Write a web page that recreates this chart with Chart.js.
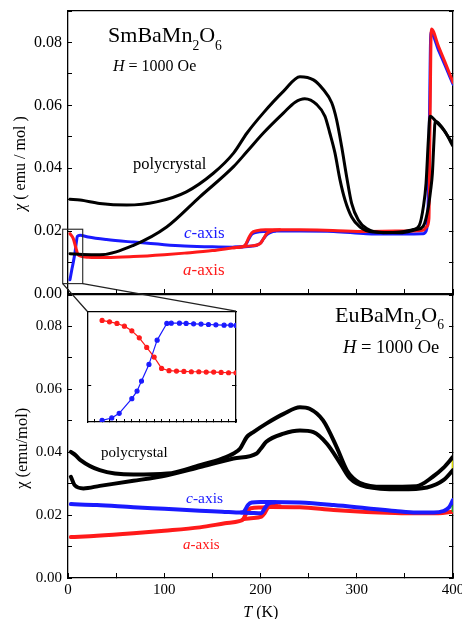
<!DOCTYPE html>
<html>
<head>
<meta charset="utf-8">
<script src="https://cdn.jsdelivr.net/npm/chart.js@4.4.1/dist/chart.umd.min.js"></script>
<style>
html,body{margin:0;padding:0;background:#fff;}
#wrap{position:relative;width:462px;height:619px;overflow:hidden;background:#fff;}
#wrap canvas{position:absolute;}
</style>
</head>
<body>
<div id="wrap">
  <canvas id="cTop" width="462" height="310" style="left:0px;top:0px;width:462px;height:310px"></canvas>
  <canvas id="cBot" width="462" height="334" style="left:0px;top:285px;width:462px;height:334px"></canvas>
  <canvas id="cIns" width="160" height="122" style="left:82px;top:306px;width:160px;height:122px"></canvas>
  <canvas id="cOvl" width="462" height="619" style="left:0px;top:0px;width:462px;height:619px;pointer-events:none"></canvas>
</div>
<script>
// ---------------- DATA ----------------
// Axis ticks
const xTickValues = [0, 100, 200, 300, 400];
const xTickLabels = ['0', '100', '200', '300', '400'];
const yTickValues = [0, 0.02, 0.04, 0.06, 0.08];
const yTickLabels = ['0.00', '0.02', '0.04', '0.06', '0.08'];

// SmBaMn2O6 (top panel): T (K) and chi (emu/mol)
const smT_polyA   = [2, 12.5, 33, 61, 92, 123, 151, 172, 186, 203, 224, 241, 255, 265, 274, 279, 284.3, 289.5, 294.7, 301.6, 310.3, 327.6, 345, 358.8, 365, 369.2, 372, 374.4, 376.1, 383, 390, 399.6];
const smChi_polyA = [0.0301, 0.0299, 0.0288, 0.0283, 0.0293, 0.0325, 0.0384, 0.0448, 0.0512, 0.0576, 0.0645, 0.0691, 0.0681, 0.0651, 0.0608, 0.0555, 0.0469, 0.0373, 0.0288, 0.0235, 0.0208, 0.0195, 0.0197, 0.0205, 0.0218, 0.0277, 0.0352, 0.0490, 0.0565, 0.0546, 0.0523, 0.0478];
const smT_polyB   = [2, 15, 33, 68, 102.5, 137, 172, 186, 203, 224, 236, 246, 258.3, 267, 272, 277.4, 282.6, 287.8, 294.7, 303.4, 317, 345, 362, 369, 374.4, 376.8, 378.6, 379.6, 380.6, 381.3, 386, 392, 399.6];
const smChi_polyB = [0.0128, 0.0126, 0.0125, 0.0155, 0.0213, 0.0309, 0.0405, 0.0453, 0.0512, 0.0576, 0.0610, 0.0621, 0.0603, 0.0565, 0.0512, 0.0448, 0.0363, 0.0299, 0.0245, 0.0213, 0.0197, 0.0195, 0.0205, 0.0215, 0.0277, 0.0331, 0.0384, 0.0448, 0.0512, 0.0549, 0.0540, 0.0515, 0.0472];
const smT_redA    = [2, 5.5, 8, 10, 12.5, 21, 40, 68, 100, 121, 150, 172, 180, 184, 188, 191, 196, 205, 241, 275, 310, 340, 369, 373, 375, 376, 377.5, 385, 392, 400];
const smChi_redA  = [0.0192, 0.0176, 0.0149, 0.0128, 0.0121, 0.0117, 0.0116, 0.0119, 0.0125, 0.0130, 0.0138, 0.0147, 0.0150, 0.0155, 0.0180, 0.0195, 0.0201, 0.0204, 0.0204, 0.0202, 0.0199, 0.0200, 0.0203, 0.0215, 0.0240, 0.0500, 0.0843, 0.0787, 0.0735, 0.0673];
const smT_redB    = [172, 190, 199.5, 203, 206.4, 212, 220];
const smChi_redB  = [0.0147, 0.0153, 0.0160, 0.0175, 0.0192, 0.0201, 0.0204];
const smT_blueA   = [2, 3.8, 5.5, 7.3, 8.7, 9.7, 12.5, 21, 40, 68, 100, 121, 150, 172, 190, 196, 200, 203, 206, 210, 217, 241, 276, 310, 340, 369, 372, 374, 375.5, 377, 385, 392, 400];
const smChi_blueA = [0.0045, 0.0075, 0.0101, 0.0133, 0.0165, 0.0183, 0.0187, 0.0181, 0.0173, 0.0165, 0.0157, 0.0153, 0.0150, 0.0149, 0.0152, 0.0155, 0.0162, 0.0175, 0.0187, 0.0195, 0.0200, 0.0200, 0.0199, 0.0192, 0.0191, 0.0192, 0.0200, 0.0260, 0.0550, 0.0832, 0.0775, 0.0725, 0.0667];
const smT_blueB   = [172, 180, 184, 188, 191, 196, 205, 215];
const smChi_blueB = [0.0149, 0.0150, 0.0154, 0.0176, 0.0190, 0.0196, 0.0199, 0.0200];

// EuBaMn2O6 (bottom panel)
const euT_polyA   = [3, 8, 13, 33, 68, 103, 137, 160, 172, 178.7, 185.7, 192.6, 206, 224, 241, 251, 265, 279, 289.6, 296, 303, 327, 362, 379, 390, 400];
const euChi_polyA = [0.0401, 0.0390, 0.0375, 0.0343, 0.0329, 0.0332, 0.0359, 0.0380, 0.0396, 0.0411, 0.0448, 0.0464, 0.0491, 0.0522, 0.0543, 0.0538, 0.0501, 0.0417, 0.0343, 0.0318, 0.0303, 0.0290, 0.0292, 0.0322, 0.0350, 0.0385];
const euT_polyB   = [3, 7, 16, 33, 68, 103, 137, 172, 196, 200, 206, 224, 241, 255, 269, 283, 293, 310, 345, 373, 390, 400];
const euChi_polyB = [0.0322, 0.0295, 0.0285, 0.0293, 0.0309, 0.0327, 0.0353, 0.0380, 0.0396, 0.0410, 0.0433, 0.0459, 0.0469, 0.0464, 0.0427, 0.0364, 0.0317, 0.0290, 0.0282, 0.0288, 0.0311, 0.0343];
const euT_blueA   = [3, 30, 68, 100, 137, 160, 180, 183, 187, 191, 200, 210, 241, 276, 310, 340, 362, 380, 390, 396, 400];
const euChi_blueA = [0.0235, 0.0232, 0.0225, 0.0220, 0.0214, 0.0211, 0.0208, 0.0212, 0.0232, 0.0240, 0.0242, 0.0242, 0.0240, 0.0232, 0.0222, 0.0213, 0.0208, 0.0208, 0.0213, 0.0225, 0.0248];
const euT_blueB   = [180, 190, 201, 204, 208, 215];
const euChi_blueB = [0.0208, 0.0207, 0.0206, 0.0220, 0.0236, 0.0241];
const euT_redA    = [3, 30, 68, 100, 137, 163, 178, 182, 186, 190, 200, 211, 241, 276, 310, 340, 362, 385, 400];
const euChi_redA  = [0.0130, 0.0134, 0.0142, 0.0150, 0.0161, 0.0174, 0.0181, 0.0187, 0.0210, 0.0222, 0.0224, 0.0226, 0.0225, 0.0216, 0.0210, 0.0207, 0.0206, 0.0206, 0.0211];
const euT_redB    = [182, 190, 201, 204, 208, 211, 220];
const euChi_redB  = [0.0187, 0.0190, 0.0195, 0.0205, 0.0225, 0.0230, 0.0228];
const euT_yellow  = [399.6, 399.6];
const euChi_yellow= [0.0345, 0.0378];
const euT_green   = [399.6, 399.6];
const euChi_green = [0.0212, 0.0228];

// Inset: low-temperature detail of SmBaMn2O6 single crystal
const insT_red    = [2, 3, 4, 5, 6, 7, 8, 9, 10, 11, 12, 13, 14, 15, 16, 17, 18, 19, 20];
const insChi_red  = [0.01996, 0.01975, 0.01950, 0.01909, 0.01837, 0.01730, 0.01582, 0.01434, 0.01260, 0.01225, 0.01220, 0.01214, 0.01209, 0.01209, 0.01204, 0.01204, 0.01199, 0.01194, 0.01194];
const insT_blue   = [2, 3.3, 4.3, 6, 6.7, 7.3, 8.3, 9.4, 10.7, 11.3, 12.4, 13.3, 14.3, 15.3, 16.3, 17.3, 18.4, 19.3, 20];
const insChi_blue = [0.00464, 0.00500, 0.00571, 0.00796, 0.00913, 0.01066, 0.01322, 0.01694, 0.01950, 0.01955, 0.01955, 0.01950, 0.01945, 0.01940, 0.01934, 0.01929, 0.01924, 0.01924, 0.01919];

// Zoom box drawn in the top panel (T range, chi range)
const zoomBoxT   = [-5.5, 15.3];
const zoomBoxChi = [0.0033, 0.0206];

// ---------------- RENDERING ----------------
const FONT = "'Liberation Serif','Times New Roman',Times,serif";
const BLACK = '#000000', RED = '#ff1a1a', BLUE = '#1a1aff';

function zip(T, C) { return T.map((t, i) => ({ x: t, y: C[i] })); }
function lineDS(T, C, color, w) {
  return {
    data: zip(T, C), borderColor: color, backgroundColor: color, borderWidth: w,
    pointRadius: 0, fill: false, cubicInterpolationMode: 'monotone',
    borderJoinStyle: 'round', borderCapStyle: 'round'
  };
}
function noPad(s) { s.paddingLeft = 0; s.paddingRight = 0; s.paddingTop = 0; s.paddingBottom = 0; }
function labelFor(values, labels, v) {
  for (let i = 0; i < values.length; i++) if (Math.abs(values[i] - v) < 1e-9) return labels[i];
  return '';
}

function drawRich(ctx, x, y, parts, size, color) {
  let cx = x;
  for (const p of parts) {
    const s = p.sub ? size * 0.62 : size;
    ctx.font = (p.it ? 'italic ' : '') + s + 'px ' + FONT;
    ctx.fillStyle = color;
    ctx.textAlign = 'left';
    ctx.textBaseline = 'alphabetic';
    ctx.fillText(p.t, cx, y + (p.sub ? size * 0.33 : 0));
    cx += ctx.measureText(p.t).width;
  }
}
function richWidth(ctx, parts, size) {
  let w = 0;
  for (const p of parts) {
    const s = p.sub ? size * 0.62 : size;
    ctx.font = (p.it ? 'italic ' : '') + s + 'px ' + FONT;
    w += ctx.measureText(p.t).width;
  }
  return w;
}

function annotPlugin(texts, yTitle, xTitle) {
  return {
    id: 'annot',
    afterDatasetsDraw(chart) {
      const ctx = chart.ctx, xs = chart.scales.x, ys = chart.scales.y, ca = chart.chartArea;
      ctx.save();
      for (const t of texts) {
        drawRich(ctx, xs.getPixelForValue(t.T), ys.getPixelForValue(t.chi), t.parts, t.size, t.color);
      }
      if (yTitle) {
        ctx.save();
        ctx.translate(ca.left + yTitle.dx, ca.top + yTitle.dy);
        ctx.rotate(-Math.PI / 2);
        const w = richWidth(ctx, yTitle.parts, yTitle.size);
        drawRich(ctx, -w / 2, yTitle.size * 0.33, yTitle.parts, yTitle.size, '#000');
        ctx.restore();
      }
      if (xTitle) {
        drawRich(ctx, ca.left + xTitle.dx, ca.bottom + xTitle.dy, xTitle.parts, xTitle.size, '#000');
      }
      ctx.restore();
    }
  };
}

function panelScales(opt) {
  return {
    x: {
      type: 'linear', position: 'bottom', min: 0, max: 400,
      ticks: {
        stepSize: 50, display: opt.showX, autoSkip: false, maxRotation: 0, padding: 8,
        color: '#000', font: { family: FONT, size: 15 },
        callback: v => labelFor(xTickValues, xTickLabels, v)
      },
      grid: { drawOnChartArea: false, drawTicks: true, tickLength: -5, color: '#000', lineWidth: 1 },
      border: { display: true, color: '#000', width: 1.3 },
      afterFit: s => { s.height = opt.xH; noPad(s); }
    },
    x2: {
      type: 'linear', position: 'top', min: 0, max: 400,
      ticks: { display: false, stepSize: 50 },
      grid: { drawOnChartArea: false, drawTicks: opt.topTicks, tickLength: -4, color: '#000', lineWidth: 1 },
      border: { display: true, color: '#000', width: 1.3 },
      afterFit: s => { s.height = 0; noPad(s); }
    },
    y: {
      type: 'linear', position: 'left', min: 0, max: 0.09,
      ticks: {
        stepSize: 0.01, autoSkip: false, padding: 10, color: '#000',
        font: { family: FONT, size: opt.yFont },
        callback: v => labelFor(yTickValues, yTickLabels, v)
      },
      grid: { drawOnChartArea: false, drawTicks: true, tickLength: -4, color: '#000', lineWidth: 1 },
      border: { display: true, color: '#000', width: 1.3 },
      afterFit: s => { s.width = 68; noPad(s); }
    },
    y2: {
      type: 'linear', position: 'right', min: 0, max: 0.09,
      ticks: { display: false, stepSize: 0.01 },
      grid: { drawOnChartArea: false, drawTicks: true, tickLength: -4, color: '#000', lineWidth: 1 },
      border: { display: true, color: '#000', width: 1.3 },
      afterFit: s => { s.width = 0; noPad(s); }
    }
  };
}

const baseOpts = {
  responsive: false, animation: false, devicePixelRatio: 1, events: [],
  plugins: { legend: { display: false }, tooltip: { enabled: false } }
};

// ---- Top panel: SmBaMn2O6
const topTexts = [
  { T: 41.6, chi: 0.0800, size: 22, color: '#000', parts: [{ t: 'SmBaMn' }, { t: '2', sub: true }, { t: 'O' }, { t: '6', sub: true }] },
  { T: 46.8, chi: 0.0709, size: 16, color: '#000', parts: [{ t: 'H', it: true }, { t: ' = 1000 Oe' }] },
  { T: 67.5, chi: 0.0396, size: 16.5, color: '#000', parts: [{ t: 'polycrystal' }] },
  { T: 120.5, chi: 0.0177, size: 17, color: BLUE, parts: [{ t: 'c', it: true }, { t: '-axis' }] },
  { T: 119.5, chi: 0.0059, size: 17, color: RED, parts: [{ t: 'a', it: true }, { t: '-axis' }] }
];
const topChart = new Chart(document.getElementById('cTop'), {
  type: 'line',
  data: { datasets: [
    lineDS(smT_polyA, smChi_polyA, BLACK, 3),
    lineDS(smT_polyB, smChi_polyB, BLACK, 3),
    lineDS(smT_redA, smChi_redA, RED, 3),
    lineDS(smT_redB, smChi_redB, RED, 3),
    lineDS(smT_blueA, smChi_blueA, BLUE, 3),
    lineDS(smT_blueB, smChi_blueB, BLUE, 3)
  ] },
  options: Object.assign({}, baseOpts, {
    layout: { padding: { left: 0, right: 9, top: 11, bottom: 0 } },
    scales: panelScales({ showX: false, xH: 16, yFont: 16, topTicks: false })
  }),
  plugins: [annotPlugin(topTexts,
    { dx: -48, dy: 152.5, size: 16, parts: [{ t: 'χ', it: true }, { t: ' ( emu / mol )' }] },
    null)]
});

// ---- Bottom panel: EuBaMn2O6
const botTexts = [
  { T: 277.4, chi: 0.0815, size: 22, color: '#000', parts: [{ t: 'EuBaMn' }, { t: '2', sub: true }, { t: 'O' }, { t: '6', sub: true }] },
  { T: 285.7, chi: 0.0717, size: 18.5, color: '#000', parts: [{ t: 'H', it: true }, { t: ' = 1000 Oe' }] },
  { T: 34.3, chi: 0.0385, size: 15, color: '#000', parts: [{ t: 'polycrystal' }] },
  { T: 122.6, chi: 0.0238, size: 15.5, color: BLUE, parts: [{ t: 'c', it: true }, { t: '-axis' }] },
  { T: 119.5, chi: 0.0093, size: 15, color: RED, parts: [{ t: 'a', it: true }, { t: '-axis' }] }
];
const botChart = new Chart(document.getElementById('cBot'), {
  type: 'line',
  data: { datasets: [
    lineDS(euT_polyA, euChi_polyA, BLACK, 4),
    lineDS(euT_polyB, euChi_polyB, BLACK, 4),
    lineDS(euT_yellow, euChi_yellow, '#d8d800', 2),
    lineDS(euT_green, euChi_green, '#22a022', 2),
    lineDS(euT_blueA, euChi_blueA, BLUE, 4),
    lineDS(euT_blueB, euChi_blueB, BLUE, 4),
    lineDS(euT_redA, euChi_redA, RED, 4),
    lineDS(euT_redB, euChi_redB, RED, 4)
  ] },
  options: Object.assign({}, baseOpts, {
    layout: { padding: { left: 0, right: 9, top: 10, bottom: 0 } },
    scales: panelScales({ showX: true, xH: 41, yFont: 15, topTicks: false })
  }),
  plugins: [annotPlugin(botTexts,
    { dx: -46.5, dy: 153.3, size: 16.5, parts: [{ t: 'χ (emu/mol)' }] },
    { dx: 175.3, dy: 39, size: 16, parts: [{ t: 'T', it: true }, { t: ' (K)' }] })]
});

// ---- Inset
const insChart = new Chart(document.getElementById('cIns'), {
  type: 'line',
  data: { datasets: [
    Object.assign(lineDS(insT_red, insChi_red, RED, 1.2), { pointRadius: 2, cubicInterpolationMode: 'default', tension: 0 }),
    Object.assign(lineDS(insT_blue, insChi_blue, BLUE, 1.2), { pointRadius: 2, cubicInterpolationMode: 'default', tension: 0 })
  ] },
  options: Object.assign({}, baseOpts, {
    layout: { padding: { left: 5, right: 6, top: 5, bottom: 6 } },
    scales: {
      x: { type: 'linear', position: 'bottom', min: 0, max: 20,
           ticks: { display: false, stepSize: 1 },
           grid: { drawOnChartArea: false, drawTicks: true, tickLength: -3, color: '#000', lineWidth: 1 },
           border: { display: true, color: '#000', width: 1.3 },
           afterFit: s => { s.height = 0; noPad(s); } },
      x2: { type: 'linear', position: 'top', min: 0, max: 20,
           ticks: { display: false },
           grid: { drawOnChartArea: false, drawTicks: false },
           border: { display: true, color: '#000', width: 1.3 },
           afterFit: s => { s.height = 0; noPad(s); } },
      y: { type: 'linear', position: 'left', min: 0.00438, max: 0.02138,
           ticks: { display: false },
           afterBuildTicks: s => { s.ticks = [{ value: 0.01 }]; },
           grid: { drawOnChartArea: false, drawTicks: true, tickLength: -4, color: '#000', lineWidth: 1 },
           border: { display: true, color: '#000', width: 1.3 },
           afterFit: s => { s.width = 0; noPad(s); } },
      y2: { type: 'linear', position: 'right', min: 0.00438, max: 0.02138,
           ticks: { display: false },
           afterBuildTicks: s => { s.ticks = [{ value: 0.01 }]; },
           grid: { drawOnChartArea: false, drawTicks: true, tickLength: -4, color: '#000', lineWidth: 1 },
           border: { display: true, color: '#000', width: 1.3 },
           afterFit: s => { s.width = 0; noPad(s); } }
    }
  }),
  plugins: [{
    id: 'whiteBg',
    beforeDraw(chart) {
      const c = chart.ctx, a = chart.chartArea;
      c.save(); c.fillStyle = '#fff'; c.fillRect(a.left, a.top, a.right - a.left, a.bottom - a.top); c.restore();
    }
  }]
});

// ---- Overlay: zoom box in the top panel and connector lines to the inset
(function () {
  const ctx = document.getElementById('cOvl').getContext('2d');
  const sx = topChart.scales.x, sy = topChart.scales.y;
  const x1 = sx.getPixelForValue(zoomBoxT[0]), x2 = sx.getPixelForValue(zoomBoxT[1]);
  const yTop = sy.getPixelForValue(zoomBoxChi[1]), yBot = sy.getPixelForValue(zoomBoxChi[0]);
  const insCanvas = document.getElementById('cIns');
  const ox = insCanvas.offsetLeft, oy = insCanvas.offsetTop;
  const ia = insChart.chartArea;
  ctx.strokeStyle = '#222';
  ctx.lineWidth = 1.1;
  ctx.strokeRect(x1, yTop, x2 - x1, yBot - yTop);
  ctx.lineWidth = 1.3;
  ctx.beginPath();
  ctx.moveTo(x1, yBot); ctx.lineTo(ox + ia.left, oy + ia.top);
  ctx.moveTo(x2, yBot); ctx.lineTo(ox + ia.right, oy + ia.top);
  ctx.stroke();
})();
</script>
</body>
</html>
